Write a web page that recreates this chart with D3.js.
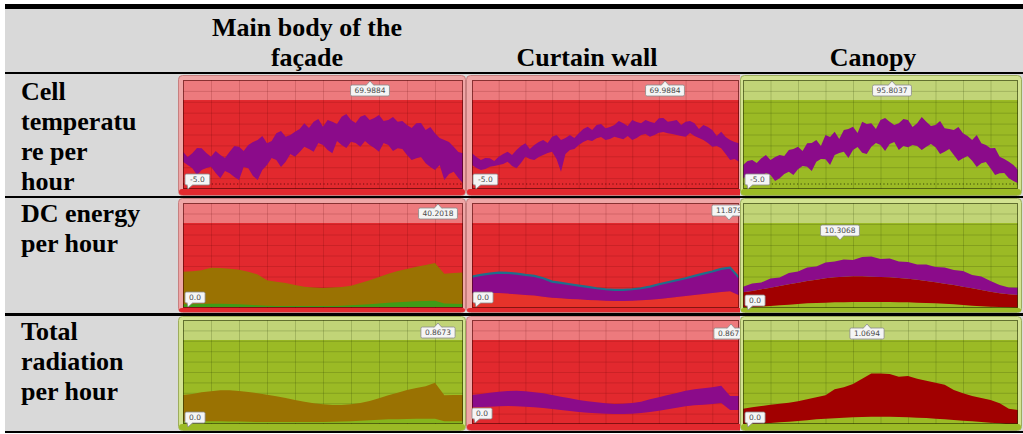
<!DOCTYPE html>
<html><head><meta charset="utf-8">
<script src="https://cdn.jsdelivr.net/npm/d3@7"></script>
<style>body{margin:0;background:#fff}svg{display:block}</style>
</head><body>
<svg id="c" width="1023" height="434"></svg>
<script>
// ---------- text ----------
const columnHeaders = [["Main body of the","façade"],["Curtain wall"],["Canopy"]];
const rowLabels = [["Cell","temperatu","re per","hour"],["DC energy","per hour"],["Total","radiation","per hour"]];
const maxLabels = [["69.9884","69.9884","95.8037"],["40.2018","11.879","10.3068"],["0.8673","0.8673","1.0694"]];
const minLabels = ["-5.0","0.0","0.0"];

// ---------- data (samples spread over the year) ----------
const tempMainHigh = [27.3,22,25.7,31,30.7,26,22.3,28,24,21,27.3,33,32.3,28,34,37,39,43,35.7,38,45.7,48,42.3,44,47.3,50,55.7,51,57.3,60,52.3,59,57.3,55,62.3,65,59,56,62.3,64,59,61,64,58,59,62,57.3,58,54,51,55.7,56,49,52,45.7,41,39,37,32.3,27,25.7];
const tempMainLow  = [17.3,14,10.7,4,9,11,12.3,6,0.7,8,5.7,2,-1,12,10.7,3,-1,9,14,21,19,12,17.3,25,22.3,27,32.3,30,27.3,36,34,29,25.7,38,34,31,37.3,36,32.3,38,34,31,27.3,36,34,28,30.7,30,24,19,20.7,22,15.7,12,9,14,-1,5,7.3,1,-4.3];
const tempCurtainHigh = [25.7,22,19,21,20.7,18,22.3,25,27.3,24,29,33,35.7,30,34,37,39,36,42.3,44,39,41,44,41,45.7,50,52.3,49,54,55,50.7,52,54,58,55.7,53,59,57,55.7,59,57.3,56,60.7,61,57.3,58,59,54,57.3,58,55.7,50,54,52,49,43,47.3,42,39,37,35.7];
const tempCurtainLow  = [14,11,9,10,12.3,13,14,15,17.3,13,10.7,16,22.3,20,19,22,24,26,27.3,20,7.3,25,29,30,34,37,39,38,40.7,42,39,40,42.3,41,39.7,43,39,41,44,45,42.3,44,46.3,47,45.7,45,44,43,42.3,46,43,41,39,36,32.3,33,30.7,25,19,20,17.3];
const tempCanopyHigh = [14,18,19,16,20.7,24,19,22,24,23,29,30,32.3,28,35.7,36,39,33,44,42,47.3,40,49,50,52.3,46,57.3,55,55.7,50,59,61,57.3,54,55.7,60,59,52,55.7,62,57.3,53,54,58,50.7,50,49,52,45.7,43,39,44,35.7,34,30.7,31,22.3,20,17.3,14,9];
const tempCanopyLow  = [0.7,3,-1,2,1.7,6,4,-2,0.7,5,7.3,4,9.7,13,12.3,8,17.3,20,19.7,14,24,26,27.3,21,29,32,26.3,25,32.3,36,34,28,35,37,29,33,31.7,34,33,29,32.3,35,31.7,25,27.3,30,24,18,20.7,23,18.3,12,15.7,17,10.7,4,5.7,6,0.7,-2,-4.3];

const energyMainTotal = [32.2,32.6,33.5,35.9,35.6,35.0,34.1,32.2,29.8,24.4,23.1,21.9,20.1,18.6,17.7,17.4,17.7,18.3,19.5,21.9,24.4,27.4,30.4,32.9,34.7,36.8,38.4,40.2,30.4,31.0,31.6];
const energyMainSmall = [2.5,2.5,2.8,3,3,2.7,2.4,2,1.6,1.2,1,0.9,0.8,0.8,0.8,0.9,1,1.2,1.5,2,2.6,3.2,3.8,4.3,4.8,5.2,5.5,5.6,3.2,3,2.8];
const energyCurtainTotal = [9.23,9.73,10.12,10.41,10.32,10.12,9.73,9.44,8.75,7.76,7.37,6.98,6.59,6.19,5.8,5.51,5.31,5.31,5.51,5.8,6.29,6.98,7.57,8.16,8.75,9.44,10.12,10.72,11.5,11.88,8.95];
const energyCurtainLower = [4.23,4.33,4.42,4.42,4.23,4.03,3.83,3.64,3.34,3.05,2.85,2.65,2.56,2.36,2.26,2.16,2.06,2.06,2.16,2.26,2.46,2.65,2.95,3.24,3.54,3.83,4.13,4.42,4.72,4.9,3.74];
const energyCanopyTotal = [4.27,4.9,5.1,5.9,6.1,7.0,7.3,8.1,8.3,9.1,9.3,9.7,9.6,10.2,10.31,9.8,9.9,9.3,9.2,8.7,8.7,8.2,8.1,7.6,7.4,6.6,6.3,5.4,4.6,4.1,4.07];
const energyCanopyMid = [3.13,3.4,3.73,4.07,4.4,4.73,5.07,5.4,5.67,5.93,6.13,6.27,6.33,6.33,6.27,6.2,6.13,6.0,5.87,5.67,5.4,5.13,4.87,4.6,4.27,3.93,3.6,3.27,2.93,2.73,2.6];
const energyCanopyLow = [0.13,0.2,0.27,0.4,0.53,0.67,0.8,0.93,1.0,1.07,1.13,1.13,1.2,1.2,1.2,1.2,1.2,1.13,1.13,1.07,1.0,0.93,0.87,0.73,0.6,0.47,0.33,0.27,0.2,0.13,0.07];

const radMainTotal = [0.602,0.624,0.660,0.681,0.703,0.703,0.688,0.667,0.638,0.609,0.573,0.538,0.495,0.459,0.423,0.401,0.387,0.387,0.401,0.430,0.473,0.530,0.595,0.652,0.710,0.753,0.789,0.867,0.595,0.602,0.602];
const radMainSmall = [0.04,0.04,0.04,0.04,0.035,0.03,0.03,0.025,0.02,0.02,0.02,0.02,0.02,0.02,0.02,0.02,0.025,0.03,0.04,0.05,0.06,0.07,0.08,0.08,0.085,0.09,0.09,0.09,0.04,0.04,0.04];
const radCurtainHigh = [0.651,0.674,0.705,0.729,0.744,0.752,0.736,0.713,0.690,0.651,0.612,0.574,0.535,0.504,0.481,0.457,0.442,0.450,0.465,0.496,0.550,0.597,0.651,0.698,0.752,0.783,0.806,0.830,0.867,0.628,0.628];
const radCurtainLow = [0.364,0.372,0.380,0.388,0.395,0.388,0.380,0.364,0.349,0.326,0.302,0.279,0.256,0.240,0.225,0.217,0.209,0.209,0.217,0.233,0.256,0.287,0.318,0.357,0.388,0.411,0.426,0.442,0.465,0.302,0.302];
const radCanopyHigh = [0.338,0.366,0.393,0.421,0.442,0.462,0.490,0.531,0.573,0.614,0.738,0.780,0.849,0.959,1.069,1.069,1.056,1.001,1.014,0.959,0.918,0.876,0.835,0.725,0.656,0.600,0.559,0.518,0.449,0.338,0.311];
const radCanopyLow = [0,0.014,0.028,0.041,0.055,0.069,0.083,0.097,0.117,0.131,0.138,0.152,0.159,0.166,0.172,0.172,0.172,0.166,0.159,0.152,0.145,0.131,0.117,0.104,0.090,0.076,0.062,0.048,0.035,0.014,0];

// ---------- styling / layout ----------
const C = {purple:"#8b0b8a", brown:"#9a7202", darkred:"#a10000", green:"#3f9c17", teal:"#1f6f8b", red2:"#e5332a"};
const themes = {
  red:  {base:"#e2292e", frame:"#efa6a6", edge:"#c77f7f", stroke:"rgba(70,0,0,0.6)", grid:"rgba(90,0,0,0.17)", dot:"#6e0c0c"},
  green:{base:"#9bba25", frame:"#d3e391", edge:"#9dac5c", stroke:"rgba(35,45,0,0.6)", grid:"rgba(40,60,0,0.2)", dot:"#3a4a06"}
};
const outerX = [[178,466],[466,745],[740,1022]];
const clipX  = [[178,466],[466,740],[740,1022]];
const plotX  = [[183,463],[472,739],[743,1018]];
const outerY = [[75,196],[198,313],[316,431]];
const plotY  = [[80,189],[203,308],[320,424]];

const panels = [
 {r:0,c:0,theme:"red",  domain:[-5,95], range:[184,84], layers:[{lo:tempMainLow,hi:tempMainHigh,color:C.purple}], max:[370,85,"up"], min:[185,174], dotted:true},
 {r:0,c:1,theme:"red",  domain:[-5,95], range:[184,84], layers:[{lo:tempCurtainLow,hi:tempCurtainHigh,color:C.purple}], max:[665,85,"up"], min:[473,174], dotted:true},
 {r:0,c:2,theme:"green",domain:[-5,95], range:[184,84], layers:[{lo:tempCanopyLow,hi:tempCanopyHigh,color:C.purple}], max:[892,85,"up"], min:[745,174], dotted:true},
 {r:1,c:0,theme:"red",  domain:[0,95], range:[307,203], layers:[{lo:null,hi:energyMainTotal,color:C.brown},{lo:null,hi:energyMainSmall,color:C.green}], max:[438,208,"up"], min:[185,292]},
 {r:1,c:1,theme:"red",  domain:[0,30], range:[308,206], layers:[{lo:null,hi:energyCurtainLower,color:C.red2},{lo:energyCurtainLower,hi:energyCurtainTotal,color:C.purple},{line:energyCurtainTotal,color:C.teal}], max:[729,205,"down"], min:[473,292]},
 {r:1,c:2,theme:"green",domain:[0,20], range:[308,208], layers:[{lo:energyCanopyLow,hi:energyCanopyMid,color:C.darkred},{lo:energyCanopyMid,hi:energyCanopyTotal,color:C.purple}], max:[840,225,"down"], min:[745,295]},
 {r:2,c:0,theme:"green",domain:[0,2.2], range:[423,320.7], layers:[{lo:null,hi:radMainTotal,color:C.brown},{lo:null,hi:radMainSmall,color:"#86b51c"}], max:[438,327,"up"], min:[185,412]},
 {r:2,c:1,theme:"red",  domain:[0,2.4], range:[423,319.8], layers:[{lo:radCurtainLow,hi:radCurtainHigh,color:C.purple}], max:[731,328,"up"], min:[472,408]},
 {r:2,c:2,theme:"green",domain:[0,2.1], range:[425,323.6], layers:[{lo:radCanopyLow,hi:radCanopyHigh,color:C.darkred}], max:[867,328,"up"], min:[745,412]}
];

const svg = d3.select("#c");
const W = 1023, H = 434;
const serif = "'Liberation Serif','Times New Roman',serif";
const small = "'DejaVu Sans',Roboto,sans-serif";
const defs = svg.append("defs");

svg.append("rect").attr("width",W).attr("height",H).attr("fill","#fff");
svg.append("rect").attr("x",5).attr("y",9).attr("width",W-5).attr("height",423).attr("fill","#d9d9d9");

// table rules
[[4,5],[72,2],[196,2],[313,3],[431,2]].forEach(([y,h]) =>
  svg.append("rect").attr("x",5).attr("y",y).attr("width",W-5).attr("height",h).attr("fill","#000"));

// headers
const headerCx = [307,587,873];
columnHeaders.forEach((lines,i) => {
  lines.forEach((t,j) => {
    svg.append("text").attr("x",headerCx[i]).attr("y",66 - (lines.length-1-j)*30)
      .attr("text-anchor","middle").attr("font-family",serif).attr("font-weight","bold")
      .attr("font-size",26).attr("fill","#000").text(t);
  });
});
const rowFirstBaseline = [100,222,340];
rowLabels.forEach((lines,i) => {
  lines.forEach((t,j) => {
    svg.append("text").attr("x",21).attr("y",rowFirstBaseline[i] + j*30)
      .attr("font-family",serif).attr("font-weight","bold").attr("font-size",26).attr("fill","#000").text(t);
  });
});

function callout(g, text, cx, yTop, dir, leftX) {
  const w = text.length*4.7 + 6, h = 11;
  const x = leftX != null ? leftX : cx - w/2;
  g.append("rect").attr("x",x).attr("y",yTop).attr("width",w).attr("height",h).attr("rx",1.5)
    .attr("fill","#f5f5f5").attr("stroke","#8a8a8a").attr("stroke-width",0.8);
  const tri = g.append("path").attr("fill","#f5f5f5").attr("stroke","#8a8a8a").attr("stroke-width",0.8);
  let cover;
  if (dir === "up") { tri.attr("d",`M${cx-4},${yTop+0.5} L${cx},${yTop-4} L${cx+4},${yTop+0.5}`); cover = `M${cx-3.3},${yTop+0.5} L${cx+3.3},${yTop+0.5}`; }
  else if (leftX != null) { tri.attr("d",`M${x+2},${yTop+h-0.5} L${x+3},${yTop+h+4} L${x+8},${yTop+h-0.5}`); cover = `M${x+2.6},${yTop+h-0.5} L${x+7.4},${yTop+h-0.5}`; }
  else { tri.attr("d",`M${cx-4},${yTop+h-0.5} L${cx},${yTop+h+4} L${cx+4},${yTop+h-0.5}`); cover = `M${cx-3.3},${yTop+h-0.5} L${cx+3.3},${yTop+h-0.5}`; }
  g.append("path").attr("stroke","#f5f5f5").attr("stroke-width",1.2).attr("d",cover);
  g.append("text").attr("x",x+w/2).attr("y",yTop+8.3).attr("text-anchor","middle")
    .attr("font-family",small).attr("font-size",7.5).attr("fill","#4a4a4a").text(text);
}

panels.forEach((p,k) => {
  const th = themes[p.theme];
  const [ox0,ox1] = outerX[p.c], [oy0,oy1] = outerY[p.r];
  const [px0,px1] = plotX[p.c], [py0,py1] = plotY[p.r];
  const cid = "clipO"+k, pid = "clipP"+k;
  defs.append("clipPath").attr("id",cid).append("rect")
    .attr("x",clipX[p.c][0]).attr("y",oy0-12).attr("width",clipX[p.c][1]-clipX[p.c][0]).attr("height",oy1-oy0+12);
  defs.append("clipPath").attr("id",pid).append("rect")
    .attr("x",px0).attr("y",py0).attr("width",px1-px0).attr("height",py1-py0);
  const g = svg.append("g").attr("clip-path",`url(#${cid})`);
  g.append("rect").attr("x",ox0+0.5).attr("y",oy0+0.5).attr("width",ox1-ox0-1).attr("height",oy1-oy0-1)
    .attr("rx",4).attr("fill",th.frame).attr("stroke",th.edge);
  g.append("rect").attr("x",ox0+1).attr("y",py1).attr("width",ox1-ox0-2).attr("height",oy1-py1-1)
    .attr("rx",3).attr("fill",th.base);
  g.append("rect").attr("x",px0).attr("y",py0).attr("width",px1-px0).attr("height",py1-py0).attr("fill",th.base);
  g.append("rect").attr("x",px0).attr("y",py0).attr("width",px1-px0).attr("height",20)
    .attr("fill","#fff").attr("opacity",0.38);

  const y = d3.scaleLinear().domain(p.domain).range(p.range);
  const gx = d3.scaleLinear().domain([0,10]).range([px0,px1]);
  const nh = Math.round((py1-py0)/10.5);
  const gy = d3.scaleLinear().domain([0,nh]).range([py1,py0]);
  const grid = g.append("g").attr("clip-path",`url(#${pid})`);
  grid.append("g").attr("transform",`translate(0,${py1})`)
    .call(d3.axisBottom(gx).tickValues(d3.range(1,10)).tickSize(-(py1-py0)).tickFormat(""))
    .call(a => { a.select(".domain").remove(); a.selectAll("line").attr("stroke",th.grid); });
  grid.append("g").attr("transform",`translate(${px0},0)`)
    .call(d3.axisLeft(gy).tickValues(d3.range(1,nh)).tickSize(-(px1-px0)).tickFormat(""))
    .call(a => { a.select(".domain").remove(); a.selectAll("line").attr("stroke",th.grid); });

  const data = g.append("g").attr("clip-path",`url(#${pid})`);
  p.layers.forEach(L => {
    const arr = L.line || L.hi;
    const x = d3.scaleLinear().domain([0, arr.length-1]).range([px0,px1]);
    if (L.line) {
      data.append("path").datum(L.line)
        .attr("d", d3.line().x((d,i)=>x(i)).y(d=>y(d)))
        .attr("fill","none").attr("stroke",L.color).attr("stroke-width",2.2);
      return;
    }
    const base = p.domain[0];
    data.append("path").datum(L.hi.map((v,i)=>[i, L.lo ? L.lo[i] : base, v]))
      .attr("d", d3.area().x(d=>x(d[0])).y0(d=>y(d[1])).y1(d=>y(d[2])))
      .attr("fill",L.color);
  });
  if (p.dotted) {
    data.append("line").attr("x1",px0).attr("x2",px1).attr("y1",y(-5)).attr("y2",y(-5))
      .attr("stroke",th.dot).attr("stroke-width",1).attr("stroke-dasharray","1.2,2.4");
  }
  g.append("rect").attr("x",px0+0.5).attr("y",py0+0.5).attr("width",px1-px0-1).attr("height",py1-py0-1)
    .attr("fill","none").attr("stroke",th.stroke);
  callout(g, maxLabels[p.r][p.c], p.max[0], p.max[1], p.max[2]);
  callout(g, minLabels[p.r], null, p.min[1], "down", p.min[0]);
});
</script>
</body></html>
